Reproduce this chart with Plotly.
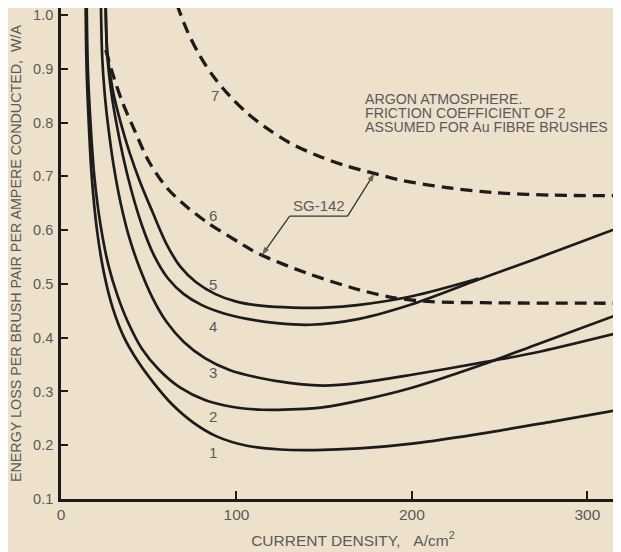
import plotly.graph_objects as go

# ---- data ----
c1_x = [14.0, 14.6, 15.8, 17.5, 20.5, 24.5, 29.5, 36.0, 44.0, 53.0, 63.0, 75.0, 89.0, 106.0, 125.0, 145.0, 170.0, 200.0, 244.0, 280.0, 320.0]
c1_y = [1.03, 0.90, 0.80, 0.70, 0.60, 0.52, 0.455, 0.40, 0.355, 0.315, 0.277, 0.243, 0.216, 0.199, 0.192, 0.191, 0.194, 0.203, 0.224, 0.244, 0.267]

c2_x = [14.6, 15.3, 16.8, 19.0, 22.5, 27.0, 32.0, 38.0, 46.0, 56.0, 68.0, 82.0, 98.0, 115.0, 135.0, 150.0, 170.0, 200.0, 242.0, 270.0, 320.0]
c2_y = [1.03, 0.90, 0.80, 0.70, 0.61, 0.535, 0.48, 0.43, 0.38, 0.34, 0.307, 0.284, 0.271, 0.266, 0.267, 0.271, 0.283, 0.307, 0.352, 0.386, 0.446]

c3_x = [22.7, 23.5, 25.0, 27.0, 30.0, 34.0, 39.0, 45.0, 52.0, 60.0, 70.0, 82.0, 96.0, 112.0, 130.0, 150.0, 170.0, 200.0, 242.0, 270.0, 320.0]
c3_y = [1.03, 0.92, 0.85, 0.79, 0.72, 0.65, 0.585, 0.528, 0.475, 0.43, 0.392, 0.362, 0.34, 0.326, 0.316, 0.311, 0.316, 0.331, 0.355, 0.372, 0.411]

c4_x = [25.4, 26.3, 28.5, 31.5, 35.5, 40.0, 46.0, 53.0, 61.0, 70.0, 80.0, 92.0, 106.0, 123.0, 142.0, 170.0, 200.0, 238.0, 270.0, 320.0]
c4_y = [1.03, 0.93, 0.86, 0.80, 0.735, 0.675, 0.61, 0.553, 0.51, 0.481, 0.461, 0.446, 0.435, 0.427, 0.424, 0.435, 0.462, 0.508, 0.546, 0.607]

c5_x = [25.4, 26.4, 29.5, 34.0, 39.0, 45.0, 52.0, 60.0, 68.0, 77.0, 88.0, 100.0, 115.0, 132.0, 150.0, 170.0, 200.0, 238.0]
c5_y = [1.03, 0.93, 0.86, 0.80, 0.745, 0.69, 0.635, 0.575, 0.532, 0.503, 0.481, 0.467, 0.459, 0.456, 0.456, 0.461, 0.477, 0.51]

c6_x = [25.5, 30.0, 35.0, 42.0, 50.0, 60.0, 70.0, 83.0, 102.0, 112.0, 140.0, 170.0, 190.0, 211.0, 240.0, 320.0]
c6_y = [0.935, 0.885, 0.838, 0.785, 0.728, 0.68, 0.648, 0.615, 0.576, 0.557, 0.52, 0.489, 0.474, 0.467, 0.465, 0.464]

c7_x = [66.0, 72.0, 79.0, 87.0, 96.0, 106.0, 117.0, 130.0, 145.0, 162.0, 179.0, 195.0, 220.0, 246.0, 280.0, 320.0]
c7_y = [1.02, 0.97, 0.925, 0.885, 0.85, 0.818, 0.79, 0.763, 0.74, 0.72, 0.705, 0.692, 0.679, 0.67, 0.665, 0.664]

curve_labels = ["1", "2", "3", "4", "5", "6", "7"]
label_x = [86.5, 86.5, 86.5, 86.5, 86.5, 86.5, 87.5]
label_y = [0.186, 0.253, 0.336, 0.42, 0.498, 0.628, 0.851]

x_ticks = [0, 100, 200, 300]
y_ticks = [0.1, 0.2, 0.3, 0.4, 0.5, 0.6, 0.7, 0.8, 0.9, 1.0]
y_ticktext = ["0.1", "0.2", "0.3", "0.4", "0.5", "0.6", "0.7", "0.8", "0.9", "1.0"]

note_lines = ["ARGON ATMOSPHERE.", "FRICTION COEFFICIENT OF 2", "ASSUMED FOR Au FIBRE BRUSHES"]
note_x = 172.0
note_y = [0.843, 0.817, 0.791]

sg_label = "SG-142"
sg_text_pos = (146.8, 0.645)
sg_bar = (130.3, 163.3, 0.626)
sg_tip6 = (114.4, 0.553)
sg_tip7 = (178.7, 0.706)

# ---- styling ----
BG = "#ede1cb"
INK = "#1c1c1c"
GREY = "#5a5a5a"
LEAD = "#333333"
FONT = "Liberation Sans, Arial, sans-serif"

fig = go.Figure()
solid = [(c1_x, c1_y), (c2_x, c2_y), (c3_x, c3_y), (c4_x, c4_y), (c5_x, c5_y)]
for xs, ys in solid:
    fig.add_trace(go.Scatter(x=xs, y=ys, mode="lines", line=dict(color=INK, width=2.7, shape="spline", smoothing=0.9), showlegend=False, hoverinfo="skip"))
for xs, ys in [(c6_x, c6_y), (c7_x, c7_y)]:
    fig.add_trace(go.Scatter(x=xs, y=ys, mode="lines", line=dict(color=INK, width=3.3, dash="12px,7px", shape="spline", smoothing=0.9), showlegend=False, hoverinfo="skip"))

# SG-142 leader: underline plus two arrows
fig.add_trace(go.Scatter(x=[sg_bar[0], sg_bar[1]], y=[sg_bar[2], sg_bar[2]], mode="lines",
                         line=dict(color=LEAD, width=1.3), showlegend=False, hoverinfo="skip"))
for (bx, tip) in [(sg_bar[0], sg_tip6), (sg_bar[1], sg_tip7)]:
    fig.add_trace(go.Scatter(x=[bx, tip[0]], y=[sg_bar[2], tip[1]], mode="lines+markers",
                             line=dict(color=LEAD, width=1.3),
                             marker=dict(symbol="arrow", size=[0, 9], color=LEAD, angleref="previous", line=dict(width=0)),
                             showlegend=False, hoverinfo="skip", cliponaxis=False))

annotations = []
for t, lx, ly in zip(curve_labels, label_x, label_y):
    annotations.append(dict(x=lx, y=ly, text=t, showarrow=False, font=dict(family=FONT, size=15, color=GREY), xanchor="center", yanchor="middle"))
for t, ly in zip(note_lines, note_y):
    annotations.append(dict(x=note_x, y=ly, text=t, showarrow=False, font=dict(family=FONT, size=14.2, color=GREY), xanchor="left", yanchor="middle"))
annotations.append(dict(x=sg_text_pos[0], y=sg_text_pos[1], text=sg_label, showarrow=False, font=dict(family=FONT, size=15, color=GREY), xanchor="center", yanchor="middle"))

# the page adds an 8px body margin; the figure is sized to the visible area
fig.update_layout(
    width=613, height=544,
    margin=dict(l=53, r=2, t=0, b=53),
    paper_bgcolor=BG, plot_bgcolor=BG,
    font=dict(family=FONT, color=GREY, size=14),
    annotations=annotations,
    showlegend=False,
)
fig.update_xaxes(
    range=[0, 318], tickvals=x_ticks, ticktext=[str(v) for v in x_ticks],
    showline=True, linecolor=INK, linewidth=2.7, showgrid=False, zeroline=False,
    ticks="inside", ticklen=8, tickwidth=1.6, tickcolor=INK, automargin=False,
    tickfont=dict(family=FONT, size=15.5, color=GREY), ticklabeloverflow="allow",
    title=dict(text="&nbsp;&nbsp;&nbsp;&nbsp;&nbsp;&nbsp;CURRENT DENSITY,&nbsp;&nbsp;&nbsp;A/cm<sup>2</sup>", font=dict(family=FONT, size=15.5, color=GREY), standoff=13),
)
fig.update_yaxes(
    range=[0.1, 1.013], tickvals=y_ticks, ticktext=y_ticktext,
    showline=True, linecolor=INK, linewidth=2.7, showgrid=False, zeroline=False,
    ticks="inside", ticklen=7, tickwidth=2.2, tickcolor=INK, automargin=False,
    tickfont=dict(family=FONT, size=14.5, color=GREY), ticklabeloverflow="allow", ticklabelstandoff=2,
    title=dict(text="ENERGY LOSS PER BRUSH PAIR PER AMPERE CONDUCTED,&nbsp;&nbsp;W/A", font=dict(family=FONT, size=14.3, color=GREY), standoff=9),
)

fig.write_html("out.html")
